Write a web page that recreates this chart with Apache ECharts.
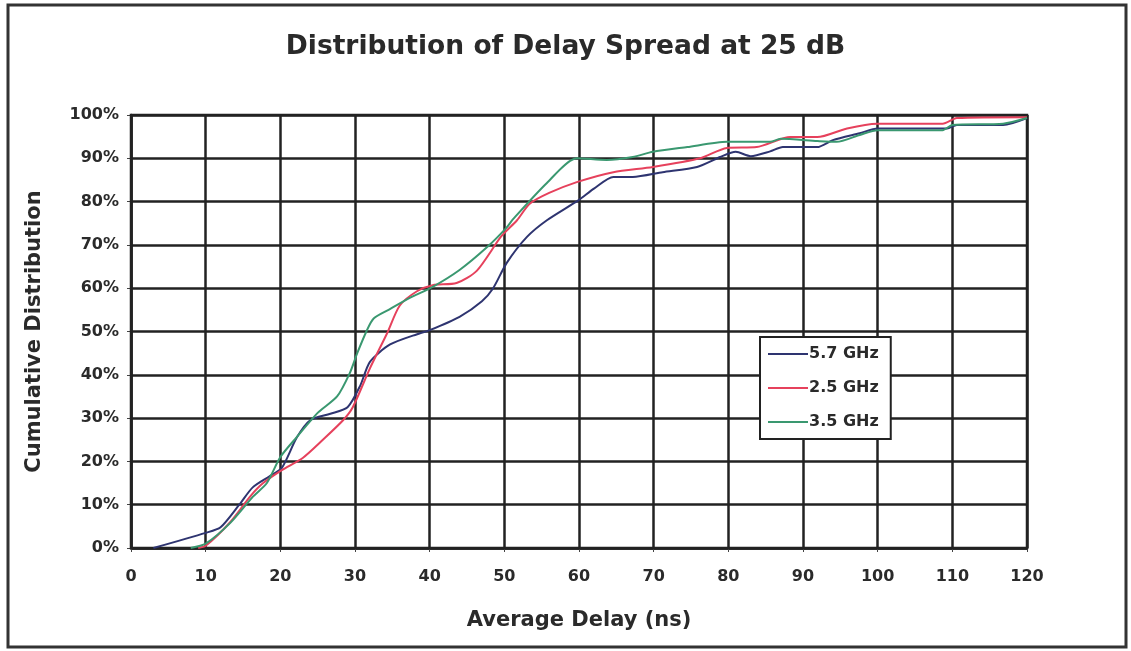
<!DOCTYPE html>
<html>
<head>
<meta charset="utf-8">
<script src="https://cdn.jsdelivr.net/npm/echarts@6/dist/echarts.min.js"></script>
<style>
html,body{margin:0;padding:0;background:#fff;}
#chart{width:1131px;height:651px;}
</style>
</head>
<body>
<div id="chart"></div>
<script>
// Data (x = average delay in ns, y = cumulative %)
const xTicks = [0,10,20,30,40,50,60,70,80,90,100,110,120];
const seriesNames = ['5.7 GHz','2.5 GHz','3.5 GHz'];

const blueX = [3,10,12,14.5,16.3,18.5,20.2,22.2,24,26.7,29,30.7,32,34.7,38.7,40,44,47,48.5,50.3,53,55.7,60,62,64.6,67.2,71.2,75.8,78.9,81,83,85.6,87.3,91.9,94,97.6,100,109.3,110.6,116.8,120];
const blueY = [0,3.5,4.8,10,14,16.5,18.5,25.5,29.5,31,32.5,37.5,43,47,49.6,50.3,53.4,57,60,65.8,71.8,75.7,80.4,83,85.7,85.7,86.8,88,90.3,91.5,90.5,91.6,92.6,92.6,94.2,95.8,96.9,96.9,97.7,97.7,99.3];

const redX = [9,10,13.3,16,17.7,20.2,23,25.7,28.4,29.7,32,34.3,36,38.3,40.4,43.6,46.3,49.6,51.7,53.4,56,59.7,64.6,69.9,76.2,79.8,83.8,88.3,91.9,95.9,99.9,108.7,110.6,120];
const redY = [0,0.5,6,12,15,18,20.8,25,29.5,32.5,41.5,49.6,56,59.3,60.7,61.2,64,72,75.7,79.5,82,84.5,86.8,88,90,92.4,92.6,94.9,94.9,96.9,98,98,99.3,99.5];

const greenX = [8,10,13.3,16.3,18.2,20,22.2,25,27.6,29.3,30.3,31.6,32.5,34.5,37.4,40.4,44,47.7,50.3,51.2,55.7,59.7,63.7,67.2,69.9,74.5,79.8,85.6,87,91.9,94.5,97.6,100,108.7,110,116.8,120];
const greenY = [0,1,5.8,11.8,15,21,25.6,31.2,35,40.4,45,50.3,53,55,57.8,60.3,64.2,69.5,74,76,84.3,90,89.6,90.3,91.5,92.6,93.8,93.8,94.5,94,93.8,95.4,96.5,96.5,97.7,98,99.3];

const colors = ['#2e3470','#e6415c','#3a9870'];

function pairs(xs, ys){ return xs.map((x,i)=>[x, ys[i]]); }

const chart = echarts.init(document.getElementById('chart'));
const wide = 'DejaVu Sans, Verdana, sans-serif';
const mkSeries = (name, xs, ys, c) => ({
  name, type:'line', data: pairs(xs, ys), smooth:0.25, showSymbol:false,
  lineStyle:{color:c, width:2}, itemStyle:{color:c}, z:5
});

chart.setOption({
  animation:false,
  backgroundColor:'#fff',
  title:{
    text:'Distribution of Delay Spread at 25 dB',
    left:'center', top:29,
    textStyle:{fontFamily:wide, fontWeight:'bold', fontSize:26.5, color:'#2a2a2a'}
  },
  grid:{left:131, right:104, top:115, bottom:103, containLabel:false},
  legend:{
    orient:'vertical', left:760, top:337,
    data:seriesNames,
    icon:'rect', itemWidth:40, itemHeight:2, itemGap:18,
    padding:[9,12,9,8],
    backgroundColor:'#fff', borderColor:'#222', borderWidth:2,
    textStyle:{fontFamily:wide, fontWeight:'bold', fontSize:16, color:'#2a2a2a', padding:[0,0,0,-4]}
  },
  xAxis:{
    type:'value', min:0, max:120, interval:10,
    name:'Average Delay (ns)', nameLocation:'middle', nameGap:62,
    nameTextStyle:{fontFamily:wide, fontWeight:'bold', fontSize:21, color:'#2a2a2a'},
    axisLine:{show:true, lineStyle:{color:'#222', width:2.5}},
    axisTick:{show:true, length:4, lineStyle:{color:'#444', width:1}},
    axisLabel:{margin:21, fontFamily:wide, fontWeight:'bold', fontSize:16, color:'#2a2a2a',
      formatter:(v)=> xTicks.includes(v) ? String(v) : ''},
    splitLine:{show:true, lineStyle:{color:'#222', width:2.5}}
  },
  yAxis:{
    type:'value', min:0, max:100, interval:10,
    name:'Cumulative Distribution', nameLocation:'middle', nameGap:86,
    nameTextStyle:{fontFamily:wide, fontWeight:'bold', fontSize:21, color:'#2a2a2a'},
    axisLine:{show:true, lineStyle:{color:'#222', width:2.5}},
    axisTick:{show:true, length:4, lineStyle:{color:'#444', width:1}},
    axisLabel:{margin:12, fontFamily:wide, fontWeight:'bold', fontSize:16, color:'#2a2a2a', formatter:'{value}%'},
    splitLine:{show:true, lineStyle:{color:'#222', width:2.5}}
  },
  graphic:[{
    type:'rect', shape:{x:8, y:5, width:1118, height:642},
    style:{fill:'none', stroke:'#333', lineWidth:3}, silent:true, z:-1
  },{
    type:'rect', shape:{x:131, y:115, width:896, height:433},
    style:{fill:'none', stroke:'#222', lineWidth:2.5}, silent:true, z:3
  }],
  series:[
    mkSeries(seriesNames[0], blueX, blueY, colors[0]),
    mkSeries(seriesNames[1], redX, redY, colors[1]),
    mkSeries(seriesNames[2], greenX, greenY, colors[2])
  ]
});
</script>
</body>
</html>
